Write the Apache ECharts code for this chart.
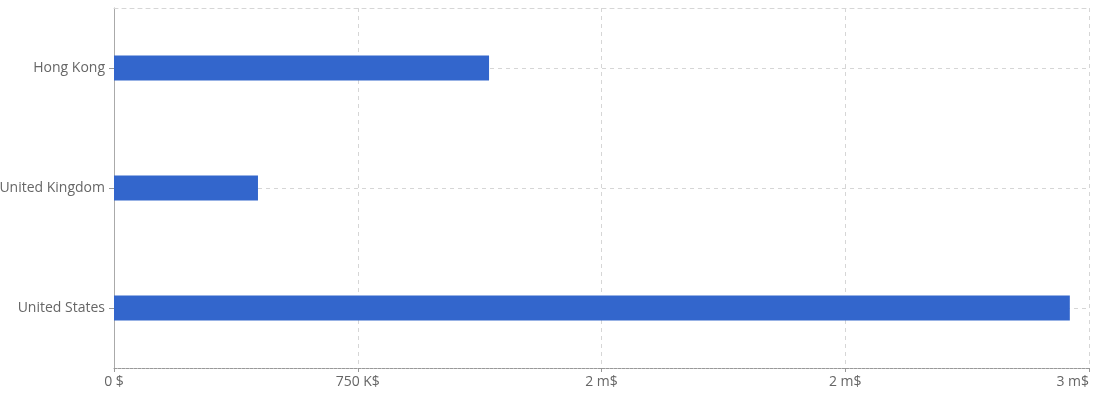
<!DOCTYPE html>
<html>
<head>
<meta charset="utf-8">
<script src="https://cdn.jsdelivr.net/npm/echarts@6/dist/echarts.min.js"></script>
<style>html,body{margin:0;padding:0;background:#fff;}#c{width:1114px;height:412px;}</style>
</head>
<body>
<div id="c"></div>
<script>
const categories = ['United States', 'United Kingdom', 'Hong Kong'];
const values = [2941000, 443000, 1154000];
const tickValues = [0, 750000, 1500000, 2250000, 3000000];
const tickLabels = ['0 $', '750 K$', '2 m$', '2 m$', '3 m$'];

const font = 'Open Sans';
const chart = echarts.init(document.getElementById('c'));
chart.setOption({
  animation: false,
  grid: { left: 114, right: 25, top: 8, bottom: 44, containLabel: false, outerBoundsMode: 'none' },
  xAxis: [{
    type: 'value',
    min: 0, max: 3000000, interval: 750000,
    axisLine: { show: true, lineStyle: { color: '#999', type: [3, 1], width: 1 } },
    axisTick: { show: true, length: 4, lineStyle: { color: '#999' } },
    axisLabel: {
      color: '#666', fontFamily: font, fontSize: 14, margin: 7,
      alignMaxLabel: 'right',
      formatter: function (v) { const i = tickValues.indexOf(v); return i >= 0 ? tickLabels[i] : ''; }
    },
    splitLine: { show: true, lineStyle: { color: '#d6d6d6', type: [4, 4] } }
  }, {
    type: 'value', position: 'top',
    min: 0, max: 3000000,
    axisLine: { show: true, lineStyle: { color: '#d6d6d6', type: [4, 4] } },
    axisTick: { show: false }, axisLabel: { show: false }, splitLine: { show: false }
  }],
  yAxis: {
    type: 'category',
    data: categories,
    axisLine: { show: true, lineStyle: { color: '#aaa' } },
    axisTick: { show: true, alignWithLabel: true, length: 5, lineStyle: { color: '#999' } },
    axisLabel: { color: '#666', fontFamily: font, fontSize: 14, margin: 9 },
    splitLine: { show: false }
  },
  series: [{
    type: 'line',
    data: [],
    z: 1,
    markLine: {
      silent: true, symbol: 'none', label: { show: false },
      lineStyle: { color: '#d6d6d6', type: [4, 4], width: 1 },
      data: categories.map(c => ({ yAxis: c }))
    }
  }, {
    type: 'bar',
    data: values,
    barWidth: 25,
    itemStyle: { color: '#3366cc' },
    z: 5
  }]
});
</script>
</body>
</html>
